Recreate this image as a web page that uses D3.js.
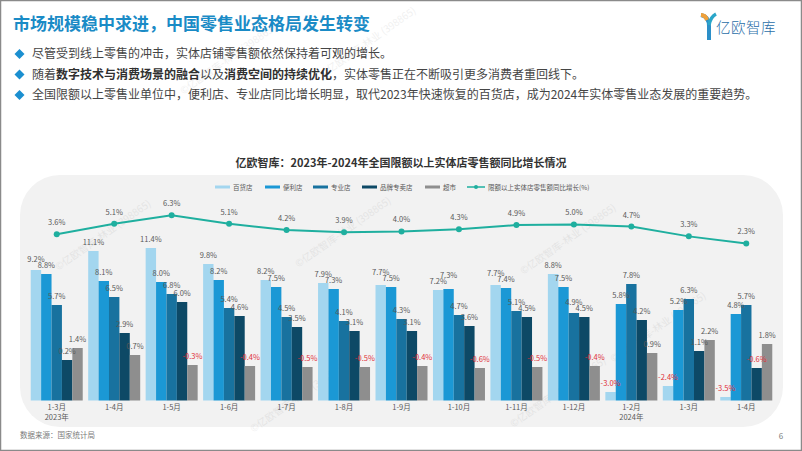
<!DOCTYPE html>
<html>
<head>
<meta charset="utf-8">
<script src="https://cdn.jsdelivr.net/npm/d3@7"></script>
<style>
body { margin: 0; background: #fff; }
svg text { font-family: "Noto Sans CJK SC", "Noto Sans", sans-serif; }
</style>
</head>
<body>
<div id="chart"></div>
<script>
const width = 802
const height = 451

// Data
const months = ["1-3月", "1-4月", "1-5月", "1-6月", "1-7月", "1-8月", "1-9月", "1-10月", "1-11月", "1-12月", "1-2月", "1-3月 ", "1-4月 "]
const yearNotes = {0: "2023年", 10: "2024年"}
const seriesNames = ["百货店", "便利店", "专业店", "品牌专卖店", "超市"]
const department = [9.2, 11.1, 11.4, 9.8, 8.2, 7.9, 7.7, 7.2, 7.7, 8.8, -3.0, -2.4, -3.5]
const convenience = [8.8, 8.1, 8.0, 8.2, 7.5, 7.3, 7.5, 7.3, 7.4, 7.5, 5.8, 5.2, 4.8]
const specialty = [5.7, 6.5, 6.8, 5.4, 4.5, 4.1, 4.3, 4.7, 5.1, 4.9, 7.8, 6.3, 5.7]
const brand = [0.2, 2.9, 6.0, 4.6, 3.5, 3.1, 3.1, 3.6, 4.5, 4.5, 4.2, 1.1, -0.6]
const supermarket = [1.4, 0.7, -0.3, -0.4, -0.5, -0.5, -0.4, -0.6, -0.5, -0.4, 0.9, 2.2, 1.8]
const totalGrowth = [3.6, 5.1, 6.3, 5.1, 4.2, 3.9, 4.0, 4.3, 4.9, 5.0, 4.7, 3.3, 2.3]
const lineName = "限额以上实体店零售额同比增长(%)"
const colors = ["#a3d6ef", "#1b98d5", "#18729f", "#0d4966", "#8e8e8e"]
const lineColor = "#1faf9f"

const barSeries = [department, convenience, specialty, brand, supermarket]

const svg = d3.select("div#chart").append("svg").attr("width", width).attr("height", height)

// page frame
svg.append("rect").attr("x", 0.5).attr("y", 0.5).attr("width", width - 1).attr("height", height - 1)
    .attr("fill", "#fff").attr("stroke", "#8a8a8a").attr("stroke-width", 1.5)

// Header
svg.append("text").attr("x", 13).attr("y", 30).attr("fill", "#1a8bc6")
    .attr("font-size", 17).attr("font-weight", "bold")
    .text("市场规模稳中求进，中国零售业态格局发生转变")

// logo
const logo = svg.append("g").attr("transform", "translate(700, 12)")
logo.append("path").attr("d", "M1,3 C6,4 9,8 9,14 L9,28").attr("fill", "none").attr("stroke", "#2c8fc8").attr("stroke-width", 4)
logo.append("path").attr("d", "M1,3 C4,3 6,5 7,8").attr("fill", "none").attr("stroke", "#f0a03a").attr("stroke-width", 4)
logo.append("path").attr("d", "M16,2 C12,4 10,8 9,13").attr("fill", "none").attr("stroke", "#2aa6c9").attr("stroke-width", 3.5)
svg.append("text").attr("x", 716).attr("y", 33).attr("fill", "#2a6ea8")
    .attr("font-size", 14.5).attr("font-weight", 300).attr("letter-spacing", 0.5).text("亿欧智库")

// Bullets
const bullets = [
    [["尽管受到线上零售的冲击，实体店铺零售额依然保持着可观的增长。", false]],
    [["随着", false], ["数字技术与消费场景的融合", true], ["以及", false], ["消费空间的持续优化", true], ["，实体零售正在不断吸引更多消费者重回线下。", false]],
    [["全国限额以上零售业单位中，便利店、专业店同比增长明显，取代2023年快速恢复的百货店，成为2024年实体零售业态发展的重要趋势。", false]]
]
const bulletY = [54, 74.5, 95]
bullets.forEach((parts, i) => {
    const cy = bulletY[i]
    svg.append("path").attr("d", `M19.5,${cy - 5} L24.5,${cy} L19.5,${cy + 5} L14.5,${cy} Z`).attr("fill", "#1b8fd0")
    const t = svg.append("text").attr("x", 32).attr("y", cy + 4.3).attr("font-size", 12).attr("fill", "#454545")
    parts.forEach(p => t.append("tspan").attr("font-weight", p[1] ? "bold" : "normal").attr("fill", p[1] ? "#303030" : "#454545").text(p[0]))
})

// Chart title
svg.append("text").attr("x", 401).attr("y", 167).attr("text-anchor", "middle")
    .attr("font-size", 11).attr("font-weight", "bold").attr("fill", "#333")
    .text("亿欧智库：2023年-2024年全国限额以上实体店零售额同比增长情况")

// Plot background
svg.append("rect").attr("x", 20).attr("y", 175).attr("width", 763).attr("height", 252)
    .attr("rx", 40).attr("fill", "#f2f2f2")

// Scales
const x0 = d3.scaleBand().domain(months).range([28, 775]).paddingInner(0.095).paddingOuter(0.0475)
const x1 = d3.scaleBand().domain(seriesNames).range([0, x0.bandwidth()])
const yBar = d3.scaleLinear().domain([-3.85, 15]).range([400.5, 212])
const yLine = d3.scaleLinear().domain([0, 10]).range([259.6, 189.2])

// Watermarks
const marks = [[105, 238], [230, 62], [370, 45], [345, 235], [570, 242], [560, 395], [300, 400], [660, 330]]
marks.forEach(m => {
    svg.append("text").attr("transform", `translate(${m[0]},${m[1]}) rotate(-35)`)
        .attr("text-anchor", "middle").attr("font-size", 10).attr("fill", "#000").attr("opacity", 0.06)
        .text("©亿欧智库-林业 (398865)")
})

// Bars
const groups = svg.append("g").selectAll("g").data(months).join("g")
    .attr("transform", d => `translate(${x0(d)},0)`)

seriesNames.forEach((name, s) => {
    groups.append("rect")
        .attr("x", x1(name))
        .attr("y", (d, i) => yBar(barSeries[s][i]))
        .attr("width", x1.bandwidth())
        .attr("height", (d, i) => yBar(-3.85) - yBar(barSeries[s][i]))
        .attr("fill", colors[s])
})

// Bar labels - stagger neighbours that would sit on top of each other
const labelY = months.map((m, i) => {
    const ys = barSeries.map(ser => yBar(ser[i]) - 6)
    for (let s = 0; s < ys.length - 1; s++) {
        if (Math.abs(ys[s] - ys[s + 1]) < 6) {
            if (ys[s] <= ys[s + 1]) ys[s] = ys[s + 1] - 6
            else ys[s + 1] = ys[s] - 6
        }
    }
    return ys
})
seriesNames.forEach((name, s) => {
    groups.append("text")
        .attr("x", x1(name) + x1.bandwidth() / 2)
        .attr("y", (d, i) => labelY[i][s])
        .attr("text-anchor", "middle")
        .attr("font-size", 7.5)
        .attr("fill", (d, i) => barSeries[s][i] < 0 ? "#e0303a" : "#595959")
        .text((d, i) => barSeries[s][i].toFixed(1) + "%")
})

// Line
const lineGen = d3.line().x((d, i) => x0(months[i]) + x0.bandwidth() / 2).y(d => yLine(d))
svg.append("path").datum(totalGrowth).attr("d", lineGen)
    .attr("fill", "none").attr("stroke", lineColor).attr("stroke-width", 2)
svg.append("g").selectAll("circle").data(totalGrowth).join("circle")
    .attr("cx", (d, i) => x0(months[i]) + x0.bandwidth() / 2)
    .attr("cy", d => yLine(d)).attr("r", 3).attr("fill", lineColor)
svg.append("g").selectAll("text").data(totalGrowth).join("text")
    .attr("x", (d, i) => x0(months[i]) + x0.bandwidth() / 2)
    .attr("y", d => yLine(d) - 9)
    .attr("text-anchor", "middle").attr("font-size", 7.5).attr("fill", "#595959")
    .text(d => d.toFixed(1) + "%")

// X axis labels
const xAxis = d3.axisBottom(x0).tickSize(0).tickPadding(0)
const xAxisGroup = svg.append("g").attr("transform", "translate(0, 404.5)").call(xAxis)
xAxisGroup.select(".domain").remove()
xAxisGroup.selectAll("text").attr("font-size", 7.5).attr("fill", "#595959")
    .attr("font-family", "Noto Sans CJK SC").text(d => d.trim())
xAxisGroup.selectAll(".tick").each(function (d, i) {
    if (yearNotes[i]) {
        d3.select(this).append("text").attr("y", 10).attr("dy", "0.71em").attr("fill", "#595959")
            .attr("font-size", 7.5).attr("font-family", "Noto Sans CJK SC").text(yearNotes[i])
    }
})

// Legend
const legendItems = [
    {name: "百货店", x: 215}, {name: "便利店", x: 265}, {name: "专业店", x: 313},
    {name: "品牌专卖店", x: 362}, {name: "超市", x: 425}
]
legendItems.forEach((item, s) => {
    svg.append("rect").attr("x", item.x).attr("y", 185.5).attr("width", 15).attr("height", 3).attr("fill", colors[s])
    svg.append("text").attr("x", item.x + 18).attr("y", 189.5).attr("font-size", 6.5).attr("fill", "#595959").text(item.name)
})
svg.append("line").attr("x1", 467).attr("x2", 485).attr("y1", 187).attr("y2", 187).attr("stroke", lineColor).attr("stroke-width", 1.5)
svg.append("circle").attr("cx", 476).attr("cy", 187).attr("r", 2).attr("fill", lineColor)
svg.append("text").attr("x", 488).attr("y", 189.5).attr("font-size", 6.5).attr("fill", "#595959").text(lineName)

// Footer
svg.append("text").attr("x", 20).attr("y", 438).attr("font-size", 7.5).attr("fill", "#7a7a7a").text("数据来源：国家统计局")
svg.append("text").attr("x", 781).attr("y", 439).attr("text-anchor", "middle").attr("font-size", 8).attr("fill", "#7a7a7a").text("6")
</script>
</body>
</html>
